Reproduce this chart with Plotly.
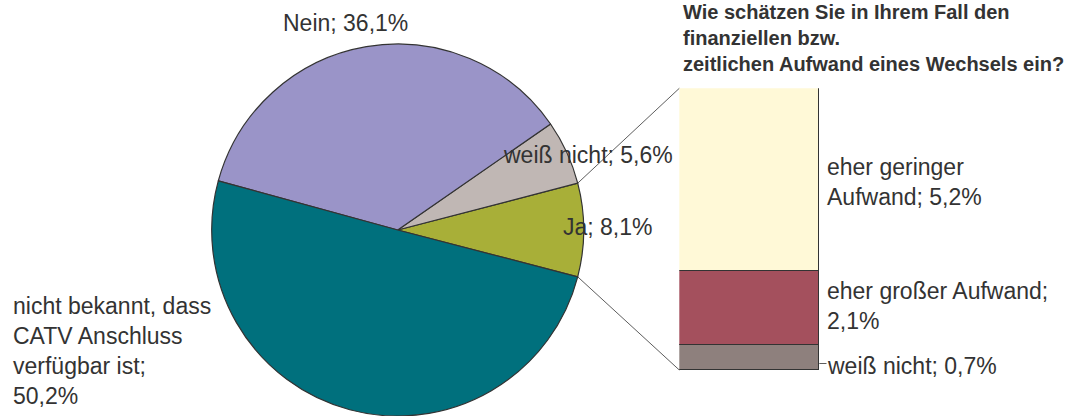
import math
import plotly.graph_objects as go

# ---------------- data ----------------
pie_labels = ["Ja", "weiß nicht", "Nein", "nicht bekannt, dass CATV Anschluss verfügbar ist"]
pie_values = [8.1, 5.6, 36.1, 50.2]
pie_templates = ["Ja; {}", "weiß nicht; {}", "Nein; {}",
                 "nicht bekannt, dass<br>CATV Anschluss<br>verfügbar ist;<br>{}"]
pie_colors = ["#A8AF38", "#C0B7B4", "#9A94C8", "#00707D"]

bar_labels = ["weiß nicht", "eher großer Aufwand", "eher geringer Aufwand"]  # bottom -> top
bar_values = [0.7, 2.1, 5.2]
bar_templates = ["weiß nicht; {}", "eher großer Aufwand;<br>{}", "eher geringer<br>Aufwand; {}"]
bar_colors = ["#8E807D", "#A4505D", "#FFF9D7"]

bar_title = "Wie schätzen Sie in Ihrem Fall den<br>finanziellen bzw.<br>zeitlichen Aufwand eines Wechsels ein?"


def fmt(v):
    return f"{v:.1f}".replace(".", ",") + "%"


# ---------------- layout helpers (pixel -> paper) ----------------
W, H = 1073, 416


def px(x):
    return x / W


def py(y):
    return 1 - y / H


TXT = "#333333"
FONT = "Liberation Sans, Arial, sans-serif"
FS = 23

# pie geometry
cx, cy, r = 397.7, 230.0, 186.0
total = sum(pie_values)
ja_half = pie_values[0] / total * 360 / 2

fig = go.Figure()
fig.add_trace(go.Pie(
    labels=pie_labels, values=pie_values, sort=False,
    direction="counterclockwise", rotation=90 - ja_half,
    marker=dict(colors=pie_colors, line=dict(color="#333333", width=1.2)),
    textinfo="none", hoverinfo="label+percent", showlegend=False,
    domain=dict(x=[px(cx - r), px(cx + r)], y=[max(0, py(cy + r)), py(cy - r)]),
))

# stacked bar
bar_x0, bar_x1, bar_y0, bar_y1 = 679.3, 819.3, 370.0, 88.3
for lab, val, col in zip(bar_labels, bar_values, bar_colors):
    fig.add_trace(go.Bar(
        x=[0], y=[val], name=lab, marker=dict(color=col, line=dict(color="#333333", width=1.2)),
        xaxis="x2", yaxis="y2", showlegend=False, width=1,
    ))

fig.update_layout(
    width=W, height=H, margin=dict(l=0, r=0, t=0, b=0),
    paper_bgcolor="white", plot_bgcolor="white",
    barmode="stack", bargap=0,
    xaxis2=dict(domain=[px(bar_x0), px(bar_x1)], range=[-0.5, 0.5], visible=False, anchor="y2"),
    yaxis2=dict(domain=[py(bar_y0), py(bar_y1)], range=[0, sum(bar_values)], visible=False, anchor="x2"),
    font=dict(family=FONT, color=TXT, size=FS),
)

annotations = []
# pie labels
pie_label_pos = [(560.5, 227, "left"), (500.5, 155, "left"), (345, 23.5, "center"), (10.5, 351, "left")]
for tpl, val, (x, y, xa) in zip(pie_templates, pie_values, pie_label_pos):
    annotations.append(dict(text=tpl.format(fmt(val)), x=px(x), y=py(y), xref="paper", yref="paper",
                            xanchor=xa, yanchor="middle", align="left", showarrow=False,
                            font=dict(size=FS, color=TXT, family=FONT)))

# bar labels (anchored at the middle of each segment, with small pixel nudges)
bar_label_yshift = [-8, 2.5, -2]
cum = 0
for tpl, val, ys in zip(bar_templates, bar_values, bar_label_yshift):
    mid = cum + val / 2
    cum += val
    annotations.append(dict(text=tpl.format(fmt(val)), x=1, y=mid, xref="x2 domain", yref="y2",
                            xanchor="left", yanchor="middle", align="left", showarrow=False,
                            xshift=6, yshift=ys, font=dict(size=FS, color=TXT, family=FONT)))

# title of the bar
annotations.append(dict(text="<b>" + bar_title + "</b>", x=px(680.5), y=py(38.5), xref="paper", yref="paper",
                        xanchor="left", yanchor="middle", align="left", showarrow=False,
                        font=dict(size=20, color=TXT, family=FONT)))
fig.update_layout(annotations=annotations)

# connector lines from the "Ja" slice edges to the bar corners
a = math.radians(ja_half)
top_pt = (cx + r * math.cos(a), cy - r * math.sin(a))
bot_pt = (cx + r * math.cos(a), cy + r * math.sin(a))
shapes = [
    dict(type="line", xref="paper", yref="paper", x0=px(top_pt[0]), y0=py(top_pt[1]),
         x1=px(bar_x0), y1=py(bar_y1), line=dict(color="#333333", width=0.8)),
    dict(type="line", xref="paper", yref="paper", x0=px(bot_pt[0]), y0=py(bot_pt[1]),
         x1=px(bar_x0), y1=py(bar_y0), line=dict(color="#333333", width=0.8)),
    # small leader for the smallest segment label
    dict(type="line", xref="paper", yref="paper", x0=px(bar_x1), x1=px(826.5),
         y0=py(363.5), y1=py(363.5), line=dict(color="#333333", width=0.8)),
]
fig.update_layout(shapes=shapes)

fig.write_html("out.html", config={"displayModeBar": False},
               post_script="document.body.style.margin='0';")
